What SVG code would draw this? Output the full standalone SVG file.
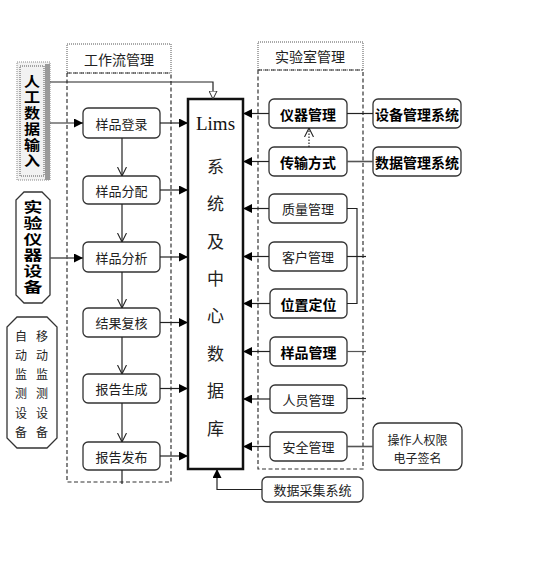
<svg xmlns="http://www.w3.org/2000/svg" width="542" height="570" viewBox="0 0 542 570">
<defs>
<style>
.bx{fill:#fff;stroke:#333;stroke-width:1.3}
.t{font-family:"Noto Sans CJK SC","Liberation Sans",sans-serif;font-size:13px;fill:#222;text-anchor:middle;dominant-baseline:central}
.b{font-weight:bold;font-size:14px;fill:#000}
.vt{font-family:"Noto Sans CJK SC","Liberation Sans",sans-serif;font-weight:bold;font-size:14px;fill:#000;writing-mode:vertical-rl;text-anchor:middle;letter-spacing:2px}
.ln{stroke:#222;stroke-width:1.2;fill:none}
.dsh{fill:none;stroke:#333;stroke-width:1.2;stroke-dasharray:4 2.5}
.dot{fill:none;stroke:#555;stroke-width:1;stroke-dasharray:1 1}
</style>
<marker id="af" viewBox="0 0 10 10" refX="10" refY="5" markerWidth="10" markerHeight="9" markerUnits="userSpaceOnUse" orient="auto"><path d="M0,0 L10,5 L0,10 z" fill="#000"/></marker>
<marker id="av" viewBox="0 0 10 10" refX="10" refY="5" markerWidth="9" markerHeight="10" markerUnits="userSpaceOnUse" orient="auto"><path d="M0,0 L10,5 L0,10" fill="none" stroke="#222" stroke-width="1.2"/></marker>
<marker id="at" viewBox="0 0 10 10" refX="10" refY="5" markerWidth="8" markerHeight="9" markerUnits="userSpaceOnUse" orient="auto"><path d="M0,0 L10,5 L0,10 z" fill="#fff" stroke="#222" stroke-width="1.2"/></marker>
</defs>
<rect width="542" height="570" fill="#fff"/>

<g id="workflow-container">
<rect x="67" y="44" width="104" height="29" class="dot"/>
<path d="M67,73 V482 H171 V73 M67,73 H171" class="dsh"/>
<text x="119" y="59" class="t" style="font-size:14px">工作流管理</text>
</g>

<g id="lab-container">
<rect x="258" y="42" width="105" height="28" class="dot"/>
<path d="M258,70 V469 H363 V70 M258,70 H363" class="dsh"/>
<text x="310" y="56" class="t" style="font-size:14px">实验室管理</text>
</g>

<g id="manual-input">
<rect x="17" y="62" width="33" height="118" fill="#f2f2f2" stroke="#888" stroke-width="1" stroke-dasharray="1 1"/>
<rect x="45" y="64" width="5" height="116" fill="#9a9a9a"/>
<rect x="20" y="66" width="24" height="110" fill="#fff" class="dot"/>
<text class="vt" x="32" y="122" transform="translate(32,0) scale(1.15,1) translate(-32,0)">人工数据输入</text>
</g>

<g id="lab-instruments">
<path d="M24,192 H42 L50,200 V295 L42,303 H24 L16,295 V200 Z" class="bx"/>
<text class="vt" x="33" y="248" transform="translate(33,0) scale(1.35,1) translate(-33,0)">实验仪器设备</text>
</g>

<g id="monitor-devices">
<path d="M17,317 H47 L57,327 V438 L47,448 H17 L7,438 V327 Z" class="bx"/>
<text class="t" style="font-size:12px"><tspan x="21" y="335">自</tspan><tspan x="21" y="354">动</tspan><tspan x="21" y="373">监</tspan><tspan x="21" y="392">测</tspan><tspan x="21" y="412">设</tspan><tspan x="21" y="431">备</tspan></text>
<text class="t" style="font-size:12px"><tspan x="42" y="335">移</tspan><tspan x="42" y="354">动</tspan><tspan x="42" y="373">监</tspan><tspan x="42" y="392">测</tspan><tspan x="42" y="412">设</tspan><tspan x="42" y="431">备</tspan></text>
</g>

<g id="wf-login"><rect x="83" y="108" width="77" height="30" rx="5" class="bx"/><text x="121.5" y="123" class="t">样品登录</text></g>
<g id="wf-assign"><rect x="83" y="176" width="77" height="28" rx="5" class="bx"/><text x="121.5" y="190" class="t">样品分配</text></g>
<g id="wf-analysis"><rect x="83" y="242" width="77" height="30" rx="5" class="bx"/><text x="121.5" y="257" class="t">样品分析</text></g>
<g id="wf-review"><rect x="83" y="308" width="77" height="29" rx="5" class="bx"/><text x="121.5" y="322.5" class="t">结果复核</text></g>
<g id="wf-report"><rect x="83" y="374" width="77" height="29" rx="5" class="bx"/><text x="121.5" y="388.5" class="t">报告生成</text></g>
<g id="wf-publish"><rect x="83" y="442" width="77" height="28" rx="5" class="bx"/><text x="121.5" y="456" class="t">报告发布</text></g>

<g id="lims">
<rect x="188" y="99" width="55" height="370" fill="#fff" stroke="#111" stroke-width="2.5"/>
<text x="215.5" y="123" style="font-family:'Liberation Serif',serif;font-size:19px;fill:#111;text-anchor:middle;dominant-baseline:central">Lims</text>
<text class="t" style="font-size:17px"><tspan x="215.5" y="165">系</tspan><tspan x="215.5" y="202">统</tspan><tspan x="215.5" y="240">及</tspan><tspan x="215.5" y="277">中</tspan><tspan x="215.5" y="314">心</tspan><tspan x="215.5" y="352">数</tspan><tspan x="215.5" y="389">据</tspan><tspan x="215.5" y="427">库</tspan></text>
</g>

<g id="lab-instrument-mgmt"><rect x="269" y="99" width="78" height="29" rx="5" class="bx"/><text x="308" y="113.5" class="t b">仪器管理</text></g>
<g id="lab-transfer"><rect x="269" y="147" width="78" height="29" rx="5" class="bx"/><text x="308" y="161.5" class="t b">传输方式</text></g>
<g id="lab-quality"><rect x="269" y="194" width="78" height="29" rx="5" class="bx"/><text x="308" y="208.5" class="t">质量管理</text></g>
<g id="lab-customer"><rect x="269" y="242" width="78" height="29" rx="5" class="bx"/><text x="308" y="256.5" class="t">客户管理</text></g>
<g id="lab-location"><rect x="270" y="289" width="77" height="29" rx="5" class="bx"/><text x="308.5" y="303.5" class="t b">位置定位</text></g>
<g id="lab-sample"><rect x="270" y="337" width="77" height="29" rx="5" class="bx"/><text x="308.5" y="351.5" class="t b">样品管理</text></g>
<g id="lab-staff"><rect x="270" y="385" width="77" height="28" rx="5" class="bx"/><text x="308.5" y="399" class="t">人员管理</text></g>
<g id="lab-security"><rect x="270" y="432" width="77" height="29" rx="5" class="bx"/><text x="308.5" y="446.5" class="t">安全管理</text></g>

<g id="equipment-system"><rect x="373" y="99" width="88" height="29" rx="5" class="bx"/><text x="417" y="113.5" class="t b">设备管理系统</text></g>
<g id="data-system"><rect x="373" y="147" width="88" height="29" rx="5" class="bx"/><text x="417" y="161.5" class="t b">数据管理系统</text></g>
<g id="operator-auth"><rect x="373" y="423" width="89" height="47" rx="7" class="bx"/><text class="t" style="font-size:12px"><tspan x="417.5" y="439">操作人权限</tspan><tspan x="417.5" y="457">电子签名</tspan></text></g>
<g id="data-collection"><rect x="262" y="477" width="101" height="25" rx="5" class="bx"/><text x="312.5" y="489.5" class="t">数据采集系统</text></g>

<g id="connectors">
<path d="M50,82 H213 V99" class="ln" marker-end="url(#at)"/>
<path d="M50,123 H83" class="ln" marker-end="url(#af)"/>
<path d="M50,258 H83" class="ln" style="stroke:#555;stroke-width:1.6" marker-end="url(#af)"/>
<path d="M122,138 V176" class="ln" marker-end="url(#av)"/>
<path d="M122,204 V242" class="ln" marker-end="url(#av)"/>
<path d="M122,272 V308" class="ln" marker-end="url(#av)"/>
<path d="M122,337 V374" class="ln" marker-end="url(#av)"/>
<path d="M122,403 V442" class="ln" marker-end="url(#av)"/>
<path d="M122,470 V484" class="ln"/>
<path d="M160,123 H188" class="ln" marker-end="url(#af)"/>
<path d="M160,190 H188" class="ln" marker-end="url(#af)"/>
<path d="M160,257 H188" class="ln" marker-end="url(#af)"/>
<path d="M160,322.5 H188" class="ln" marker-end="url(#af)"/>
<path d="M160,388.5 H188" class="ln" marker-end="url(#af)"/>
<path d="M160,456 H188" class="ln" marker-end="url(#af)"/>
<path d="M269,113.5 H243" class="ln" marker-end="url(#af)"/>
<path d="M269,161.5 H243" class="ln" marker-end="url(#af)"/>
<path d="M269,208.5 H243" class="ln" marker-end="url(#af)"/>
<path d="M269,256.5 H243" class="ln" marker-end="url(#af)"/>
<path d="M270,303.5 H243" class="ln" marker-end="url(#af)"/>
<path d="M270,351.5 H243" class="ln" marker-end="url(#af)"/>
<path d="M270,399 H243" class="ln" marker-end="url(#af)"/>
<path d="M270,446.5 H243" class="ln" marker-end="url(#af)"/>
<path d="M309,147 V128" class="ln" stroke-dasharray="1.5 1.5" marker-end="url(#av)"/>
<path d="M347,113.5 H373" class="ln"/>
<path d="M347,161.5 H373" class="ln" style="stroke:#555;stroke-width:1.6"/>
<path d="M347,208.5 H357 V303.5 H347" class="ln"/>
<path d="M347,256.5 H366" class="ln"/>
<path d="M347,351.5 H366" class="ln" style="stroke:#555"/>
<path d="M347,398.5 H366" class="ln"/>
<path d="M347,446.5 H373" class="ln" style="stroke:#555;stroke-width:1.6"/>
<path d="M262,489.5 H217 V469" class="ln" marker-end="url(#af)"/>
</g>
</svg>
